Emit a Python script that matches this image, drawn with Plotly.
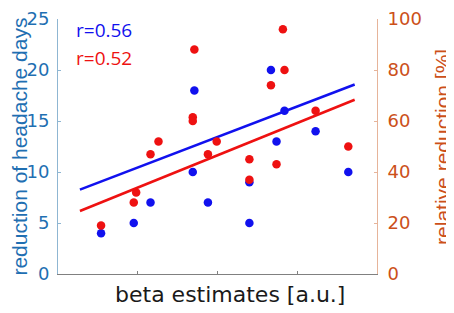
import plotly.graph_objects as go

# Data
blue_x = [0.54, 0.95, 1.16, 1.69, 1.71, 1.88, 2.40, 2.40, 2.67, 2.74, 2.84, 3.23, 3.64]
blue_y = [4, 5, 7, 10, 18, 7, 9, 5, 20, 13, 16, 14, 10]

red_x = [0.54, 0.95, 0.98, 1.16, 1.26, 1.71, 1.69, 1.69, 1.88, 1.99, 2.40, 2.40,
         2.67, 2.74, 2.82, 2.84, 3.23, 3.64]
red_y = [19, 28, 32, 47, 52, 88, 61.5, 60, 47, 52, 45, 37, 74, 43, 96, 80, 64, 50]

fit_x = [0.275, 3.72]
blue_fit = [8.27, 18.58]
red_fit = [24.7, 68.3]

left_ticks = [0, 5, 10, 15, 20, 25]
right_ticks = [0, 20, 40, 60, 80, 100]
x_ticks = [1, 2, 3]

x_title = "beta estimates [a.u.]"
left_title = "reduction of headache days"
right_title = "relative reduction [%]"

BLUE = "#1111ee"
RED = "#ee1111"
LEFT_C = "#1f6fb2"
RIGHT_C = "#cc5019"
FONT = "Liberation Sans, Arial, sans-serif"
TICKFONT = "DejaVu Sans"

fig = go.Figure()
fig.add_trace(go.Scatter(x=blue_x, y=blue_y, mode="markers",
                         marker=dict(color=BLUE, size=8.5), showlegend=False))
fig.add_trace(go.Scatter(x=red_x, y=red_y, mode="markers", yaxis="y2",
                         marker=dict(color=RED, size=8.5), showlegend=False))
fig.add_trace(go.Scatter(x=fit_x, y=blue_fit, mode="lines",
                         line=dict(color=BLUE, width=2.6), showlegend=False))
fig.add_trace(go.Scatter(x=fit_x, y=red_fit, mode="lines", yaxis="y2",
                         line=dict(color=RED, width=2.6), showlegend=False))

fig.add_annotation(x=0.2, y=23.9, xref="x", yref="y", text="r=0.56",
                   showarrow=False, xanchor="left",
                   font=dict(family="Open Sans", size=19, color=BLUE))
fig.add_annotation(x=0.2, y=21.2, xref="x", yref="y", text="r=0.52",
                   showarrow=False, xanchor="left",
                   font=dict(family="Open Sans", size=19, color=RED))

# axis titles placed as annotations for exact positioning
fig.add_annotation(x=-0.122, y=0.5, xref="paper", yref="paper", text=left_title,
                   showarrow=False, textangle=-90, xanchor="center", yanchor="middle",
                   font=dict(family=FONT, size=21, color=LEFT_C))
fig.add_annotation(x=1.205, y=0.5, xref="paper", yref="paper", text=right_title,
                   showarrow=False, textangle=-90, xanchor="center", yanchor="middle",
                   font=dict(family=FONT, size=21, color=RIGHT_C))
fig.add_annotation(x=0.539, y=-0.08, xref="paper", yref="paper", text=x_title,
                   showarrow=False, xanchor="center", yanchor="middle",
                   font=dict(family=TICKFONT, size=22, color="#1a1a1a"))

fig.update_layout(
    width=446, height=305,
    margin=dict(l=50, r=77, t=11, b=39, autoexpand=False),
    paper_bgcolor="white", plot_bgcolor="white",
    font=dict(family=FONT),
    xaxis=dict(range=[0, 4], tickvals=x_ticks, showticklabels=False,
               ticks="inside", ticklen=3, tickcolor="#808080",
               showline=True, linecolor="#808080", linewidth=1,
               showgrid=False, zeroline=False, automargin=False),
    yaxis=dict(range=[0, 25], tickvals=left_ticks,
               ticks="inside", ticklen=3, tickcolor="#8fb6d2",
               showline=True, linecolor="#8fb6d2", linewidth=1,
               showgrid=False, zeroline=False, ticklabelstandoff=4,
               automargin=False, ticklabeloverflow="allow",
               tickfont=dict(family=TICKFONT, size=18, color=LEFT_C)),
    yaxis2=dict(range=[0, 100], tickvals=right_ticks, overlaying="y", side="right",
                ticks="inside", ticklen=3, tickcolor="#e6b49a",
                showline=True, linecolor="#e6b49a", linewidth=1,
                showgrid=False, zeroline=False, ticklabelstandoff=6,
                automargin=False, ticklabeloverflow="allow",
                tickfont=dict(family=TICKFONT, size=18, color=RIGHT_C)),
)

fig.write_html("out.html")
